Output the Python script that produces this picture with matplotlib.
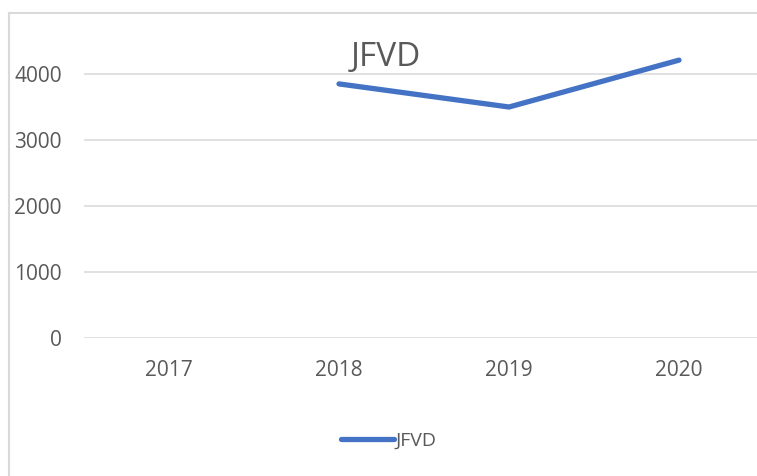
import numpy as np
import matplotlib
matplotlib.use('Agg')
import matplotlib.pyplot as plt
from matplotlib.lines import Line2D

# datos del grafico
anios = ['2017', '2018', '2019', '2020']
valores_jfvd = [np.nan, 3850, 3500, 4210]
ticks_y = [0, 1000, 2000, 3000, 4000]

plt.rcParams['font.family'] = ['Open Sans', 'DejaVu Sans']

color_linea = '#4472C4'
color_texto = '#595959'
color_grilla = '#D9D9D9'

fig = plt.figure(figsize=(7.57, 4.76), dpi=100)
ax = fig.add_axes([84 / 757, 138 / 476, 680 / 757, 297 / 476])

x = np.arange(len(anios))
ax.plot(x, valores_jfvd, color=color_linea, linewidth=3.8,
        solid_capstyle='round', solid_joinstyle='round', label='JFVD', clip_on=False)

ax.set_xlim(-0.5, len(anios) - 0.5)
ax.set_ylim(0, 4500)
ax.set_yticks(ticks_y)
ax.set_yticklabels([str(t) for t in ticks_y])
ax.set_xticks(x)
ax.set_xticklabels(anios)

for t in ticks_y:
    ax.axhline(t, color=color_grilla, linewidth=1.1, zorder=0)

for s in ax.spines.values():
    s.set_visible(False)
ax.tick_params(axis='both', length=0, labelsize=15, colors=color_texto)
ax.tick_params(axis='y', pad=16)
ax.tick_params(axis='x', pad=16)

# titulo
fig.text(386 / 757, 1 - 57 / 476, 'JFVD', ha='center', va='center',
         fontsize=24, color=color_texto)

# leyenda
fig.legend(handles=[Line2D([0], [0], color=color_linea, linewidth=3.8, solid_capstyle='round')],
           labels=['JFVD'], loc='center', bbox_to_anchor=(389 / 757, 1 - 441 / 476),
           frameon=False, fontsize=14, labelcolor=color_texto,
           handlelength=2.7, handletextpad=0.1)

# borde del area del grafico
fig.add_artist(Line2D([9 / 757, 9 / 757], [0, 1 - 13 / 476], transform=fig.transFigure,
                      color=color_grilla, linewidth=1.5))
fig.add_artist(Line2D([9 / 757, 1], [1 - 13 / 476, 1 - 13 / 476], transform=fig.transFigure,
                      color=color_grilla, linewidth=1.5))

fig.savefig('out.png', dpi=100, facecolor='white')
